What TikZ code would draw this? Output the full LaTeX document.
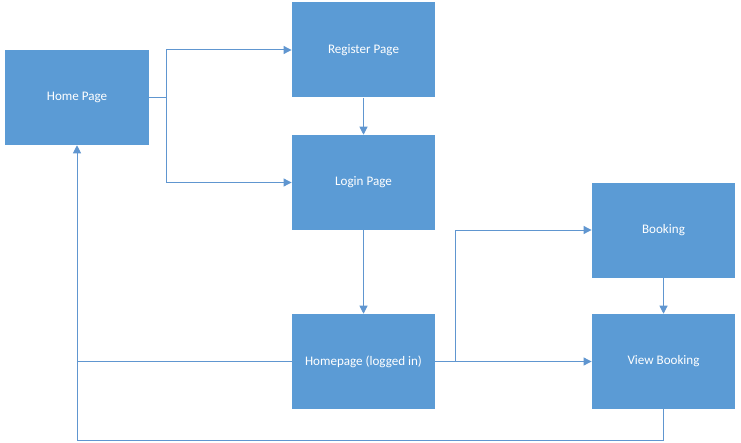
\documentclass[tikz,border=0pt]{standalone}
\usepackage{fontspec}
\setmainfont{Carlito}
\usetikzlibrary{arrows.meta}
\definecolor{pageblue}{RGB}{91,155,213}
\definecolor{wireblue}{RGB}{96,150,208}

\begin{document}
\begin{tikzpicture}[x=0.75pt,y=-0.75pt]
    \tikzstyle{page}=[rectangle, fill=pageblue, text=white, inner sep=0pt, minimum width=107.5pt, minimum height=71.25pt, font=\fontsize{9.8}{11}\selectfont]
    \tikzstyle{wire}=[draw=wireblue, line width=0.75pt]
    \tikzstyle{link}=[wire, -{Triangle[width=6pt,length=6pt]}]

    \useasboundingbox (0,0) rectangle (741,442);

    % pages
    \node[page] (home) at (77,97.5) {Home Page};
    \node[page] (register) at (363.5,50) {Register Page};
    \node[page] (login) at (363.5,182.5) {Login Page};
    \node[page] (loggedin) at (363.5,361.5) {Homepage (logged in)};
    \node[page] (booking) at (663.5,230) {Booking};
    \node[page] (viewbooking) at (663.5,361.5) {View Booking};

    % bend points
    \coordinate (homesplit) at (166,97.5);
    \coordinate (loggedsplit) at (455,361.5);
    \coordinate (backjoin) at (77,361.5);
    \coordinate (loopcorner) at (77,440);

    % links from home page
    \draw[wire] (home) -- (homesplit);
    \draw[link] (homesplit) |- (register);
    \draw[link] (homesplit) |- (login);
    \draw[link] (register) -- (login);
    \draw[link] (login) -- (loggedin);

    % links from logged in homepage
    \draw[wire] (loggedin) -- (loggedsplit);
    \draw[link] (loggedsplit) |- (booking);
    \draw[link] (loggedsplit) -- (viewbooking);
    \draw[link] (booking) -- (viewbooking);

    % links back to home page
    \draw[link] (loggedin) -| (home);
    \draw[wire] (viewbooking) |- (loopcorner) -- (backjoin);

\end{tikzpicture}
\end{document}
